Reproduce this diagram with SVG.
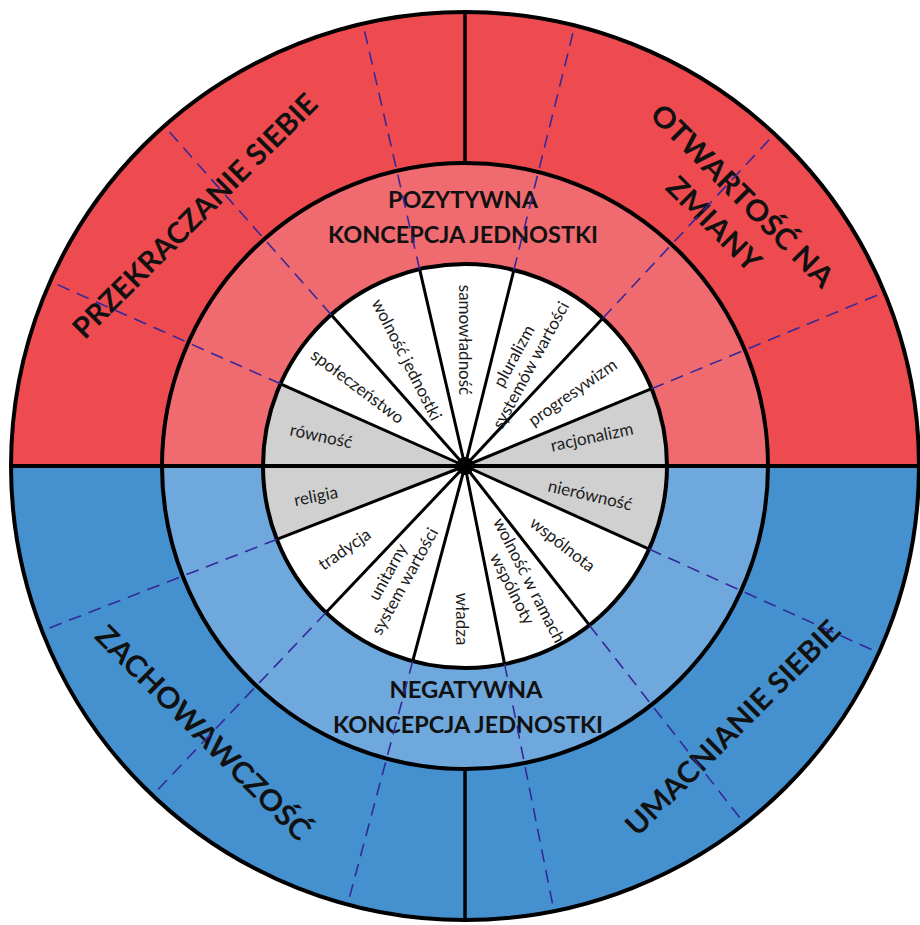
<svg xmlns="http://www.w3.org/2000/svg" width="920" height="925" viewBox="0 0 920 925">
  <defs>
    <style>
      .ln { stroke: #000; fill: none; }
      .ring { stroke: #000; stroke-width: 4; fill: none; }
      .spoke { stroke: #000; stroke-width: 3; }
      .dash { stroke: #35289A; stroke-width: 1.6; stroke-dasharray: 13 8; fill: none; }
      .big { font-family: Lato, "Liberation Sans", sans-serif; font-weight: bold; font-size: 29px; fill: #111; text-anchor: middle; }
      .mid { font-family: Lato, "Liberation Sans", sans-serif; font-weight: bold; font-size: 22px; fill: #111; text-anchor: middle; }
      .lbl { font-family: Lato, "Liberation Sans", sans-serif; font-size: 17px; fill: #1c1c1c; text-anchor: middle; }
    </style>
  </defs>
  <rect width="920" height="925" fill="#fff"/>

  <g id="outer-ring">
    <path id="outer-top" d="M11,466 A454,454 0 0 1 919,466 Z" fill="#EE4B50"/>
    <path id="outer-bottom" d="M11,466 A454,454 0 0 0 919,466 Z" fill="#4591D0"/>
  </g>
  <g id="middle-ring">
    <path id="middle-top" d="M162,466 A303,303 0 0 1 768,466 Z" fill="#F06B70"/>
    <path id="middle-bottom" d="M162,466 A303,303 0 0 0 768,466 Z" fill="#6EA8DC"/>
  </g>
  <g id="inner-wheel">
    <circle cx="465" cy="466" r="202" fill="#fff"/>
    <path id="sector-racjonalizm" d="M465,466 L667,466 A202,202 0 0 0 651.6,388.7 Z" fill="#D0D0D0"/>
    <path id="sector-rownosc" d="M465,466 L280.5,383.8 A202,202 0 0 0 263,466 Z" fill="#D0D0D0"/>
    <path id="sector-religia" d="M465,466 L263,466 A202,202 0 0 0 276.8,539.4 Z" fill="#D0D0D0"/>
    <path id="sector-nierownosc" d="M465,466 L649.1,549.1 A202,202 0 0 0 667,466 Z" fill="#D0D0D0"/>
    <g class="spoke">
      <line x1="465" y1="466" x2="651.6" y2="388.7"/>
      <line x1="465" y1="466" x2="602.8" y2="318.3"/>
      <line x1="465" y1="466" x2="513.9" y2="270.0"/>
      <line x1="465" y1="466" x2="419.6" y2="269.2"/>
      <line x1="465" y1="466" x2="331.2" y2="314.7"/>
      <line x1="465" y1="466" x2="280.5" y2="383.8"/>
      <line x1="465" y1="466" x2="649.1" y2="549.1"/>
      <line x1="465" y1="466" x2="589.4" y2="625.2"/>
      <line x1="465" y1="466" x2="504.6" y2="664.1"/>
      <line x1="465" y1="466" x2="412.7" y2="661.1"/>
      <line x1="465" y1="466" x2="326.0" y2="612.5"/>
      <line x1="465" y1="466" x2="276.8" y2="539.4"/>
    </g>
    <circle cx="465" cy="466" r="9" fill="#000"/>
  </g>

  <g id="dividers">
    <circle class="ring" cx="465" cy="466" r="454"/>
    <circle class="ring" cx="465" cy="466" r="303"/>
    <circle class="ring" cx="465" cy="466" r="202"/>
    <line class="ln" x1="11" y1="466" x2="920" y2="466" stroke-width="4"/>
    <line class="ln" x1="465" y1="12" x2="465" y2="163" stroke-width="3.5"/>
    <line class="ln" x1="465" y1="769" x2="465" y2="920" stroke-width="3.5"/>
  </g>

  <g id="outer-labels">
    <text class="big" transform="translate(195,216) rotate(-45)" x="0" y="10" textLength="332" lengthAdjust="spacingAndGlyphs">PRZEKRACZANIE SIEBIE</text>
    <g transform="translate(728,210) rotate(45)">
      <text class="big" x="0" y="-10" textLength="245" lengthAdjust="spacingAndGlyphs">OTWARTOŚĆ NA</text>
      <text class="big" x="0" y="30" textLength="120" lengthAdjust="spacingAndGlyphs">ZMIANY</text>
    </g>
    <text class="big" transform="translate(203,733) rotate(45)" x="0" y="10" textLength="290" lengthAdjust="spacingAndGlyphs">ZACHOWAWCZOŚĆ</text>
    <text class="big" transform="translate(733,728) rotate(-45)" x="0" y="10" textLength="290" lengthAdjust="spacingAndGlyphs">UMACNIANIE SIEBIE</text>
  </g>

  <g id="middle-labels">
    <text class="mid" x="463" y="208" textLength="150" lengthAdjust="spacingAndGlyphs">POZYTYWNA</text>
    <text class="mid" x="463" y="243" textLength="270" lengthAdjust="spacingAndGlyphs">KONCEPCJA JEDNOSTKI</text>
    <text class="mid" x="466" y="698" textLength="153" lengthAdjust="spacingAndGlyphs">NEGATYWNA</text>
    <text class="mid" x="468" y="733" textLength="270" lengthAdjust="spacingAndGlyphs">KONCEPCJA JEDNOSTKI</text>
  </g>

  <g id="inner-labels">
    <text class="lbl" transform="translate(321,437) rotate(12)" y="5">równość</text>
    <text class="lbl" transform="translate(357,387) rotate(37)" y="5">społeczeństwo</text>
    <text class="lbl" transform="translate(406,360) rotate(63)" y="5">wolność jednostki</text>
    <text class="lbl" transform="translate(464,340) rotate(90)" y="5">samowładność</text>
    <g transform="translate(523,361) rotate(-61.5)">
      <text class="lbl" y="-4.5">pluralizm</text>
      <text class="lbl" y="14.5">systemów wartości</text>
    </g>
    <text class="lbl" transform="translate(573,393) rotate(-35)" y="5">progresywizm</text>
    <text class="lbl" transform="translate(592,438) rotate(-12)" y="5">racjonalizm</text>
    <text class="lbl" transform="translate(316,497) rotate(-11)" y="5">religia</text>
    <text class="lbl" transform="translate(345,550) rotate(-35)" y="5">tradycja</text>
    <g transform="translate(397,577) rotate(-61)">
      <text class="lbl" y="-4.5">unitarny</text>
      <text class="lbl" y="14.5">system wartości</text>
    </g>
    <text class="lbl" transform="translate(461,619) rotate(90)" y="5">władza</text>
    <g transform="translate(520,585) rotate(63)">
      <text class="lbl" y="-4.5">wolność w ramach</text>
      <text class="lbl" y="14.5">wspólnoty</text>
    </g>
    <text class="lbl" transform="translate(562,545) rotate(38)" y="5">wspólnota</text>
    <text class="lbl" transform="translate(590,496) rotate(13)" y="5">nierówność</text>
  </g>

  <g id="connectors" class="dash">
    <line x1="651.6" y1="388.7" x2="881.7" y2="293.4"/>
    <line x1="602.8" y1="318.3" x2="772.6" y2="136.1"/>
    <line x1="513.9" y1="270.0" x2="574.1" y2="28.4"/>
    <line x1="419.6" y1="269.2" x2="363.5" y2="26.5"/>
    <line x1="331.2" y1="314.7" x2="166.2" y2="128.2"/>
    <line x1="280.5" y1="383.8" x2="53.0" y2="282.6"/>
    <line x1="649.1" y1="549.1" x2="876.0" y2="651.6"/>
    <line x1="589.4" y1="625.2" x2="742.7" y2="821.4"/>
    <line x1="504.6" y1="664.1" x2="553.4" y2="908.2"/>
    <line x1="412.7" y1="661.1" x2="348.3" y2="901.6"/>
    <line x1="326.0" y1="612.5" x2="154.5" y2="793.2"/>
    <line x1="276.8" y1="539.4" x2="44.8" y2="629.8"/>
  </g>
</svg>
